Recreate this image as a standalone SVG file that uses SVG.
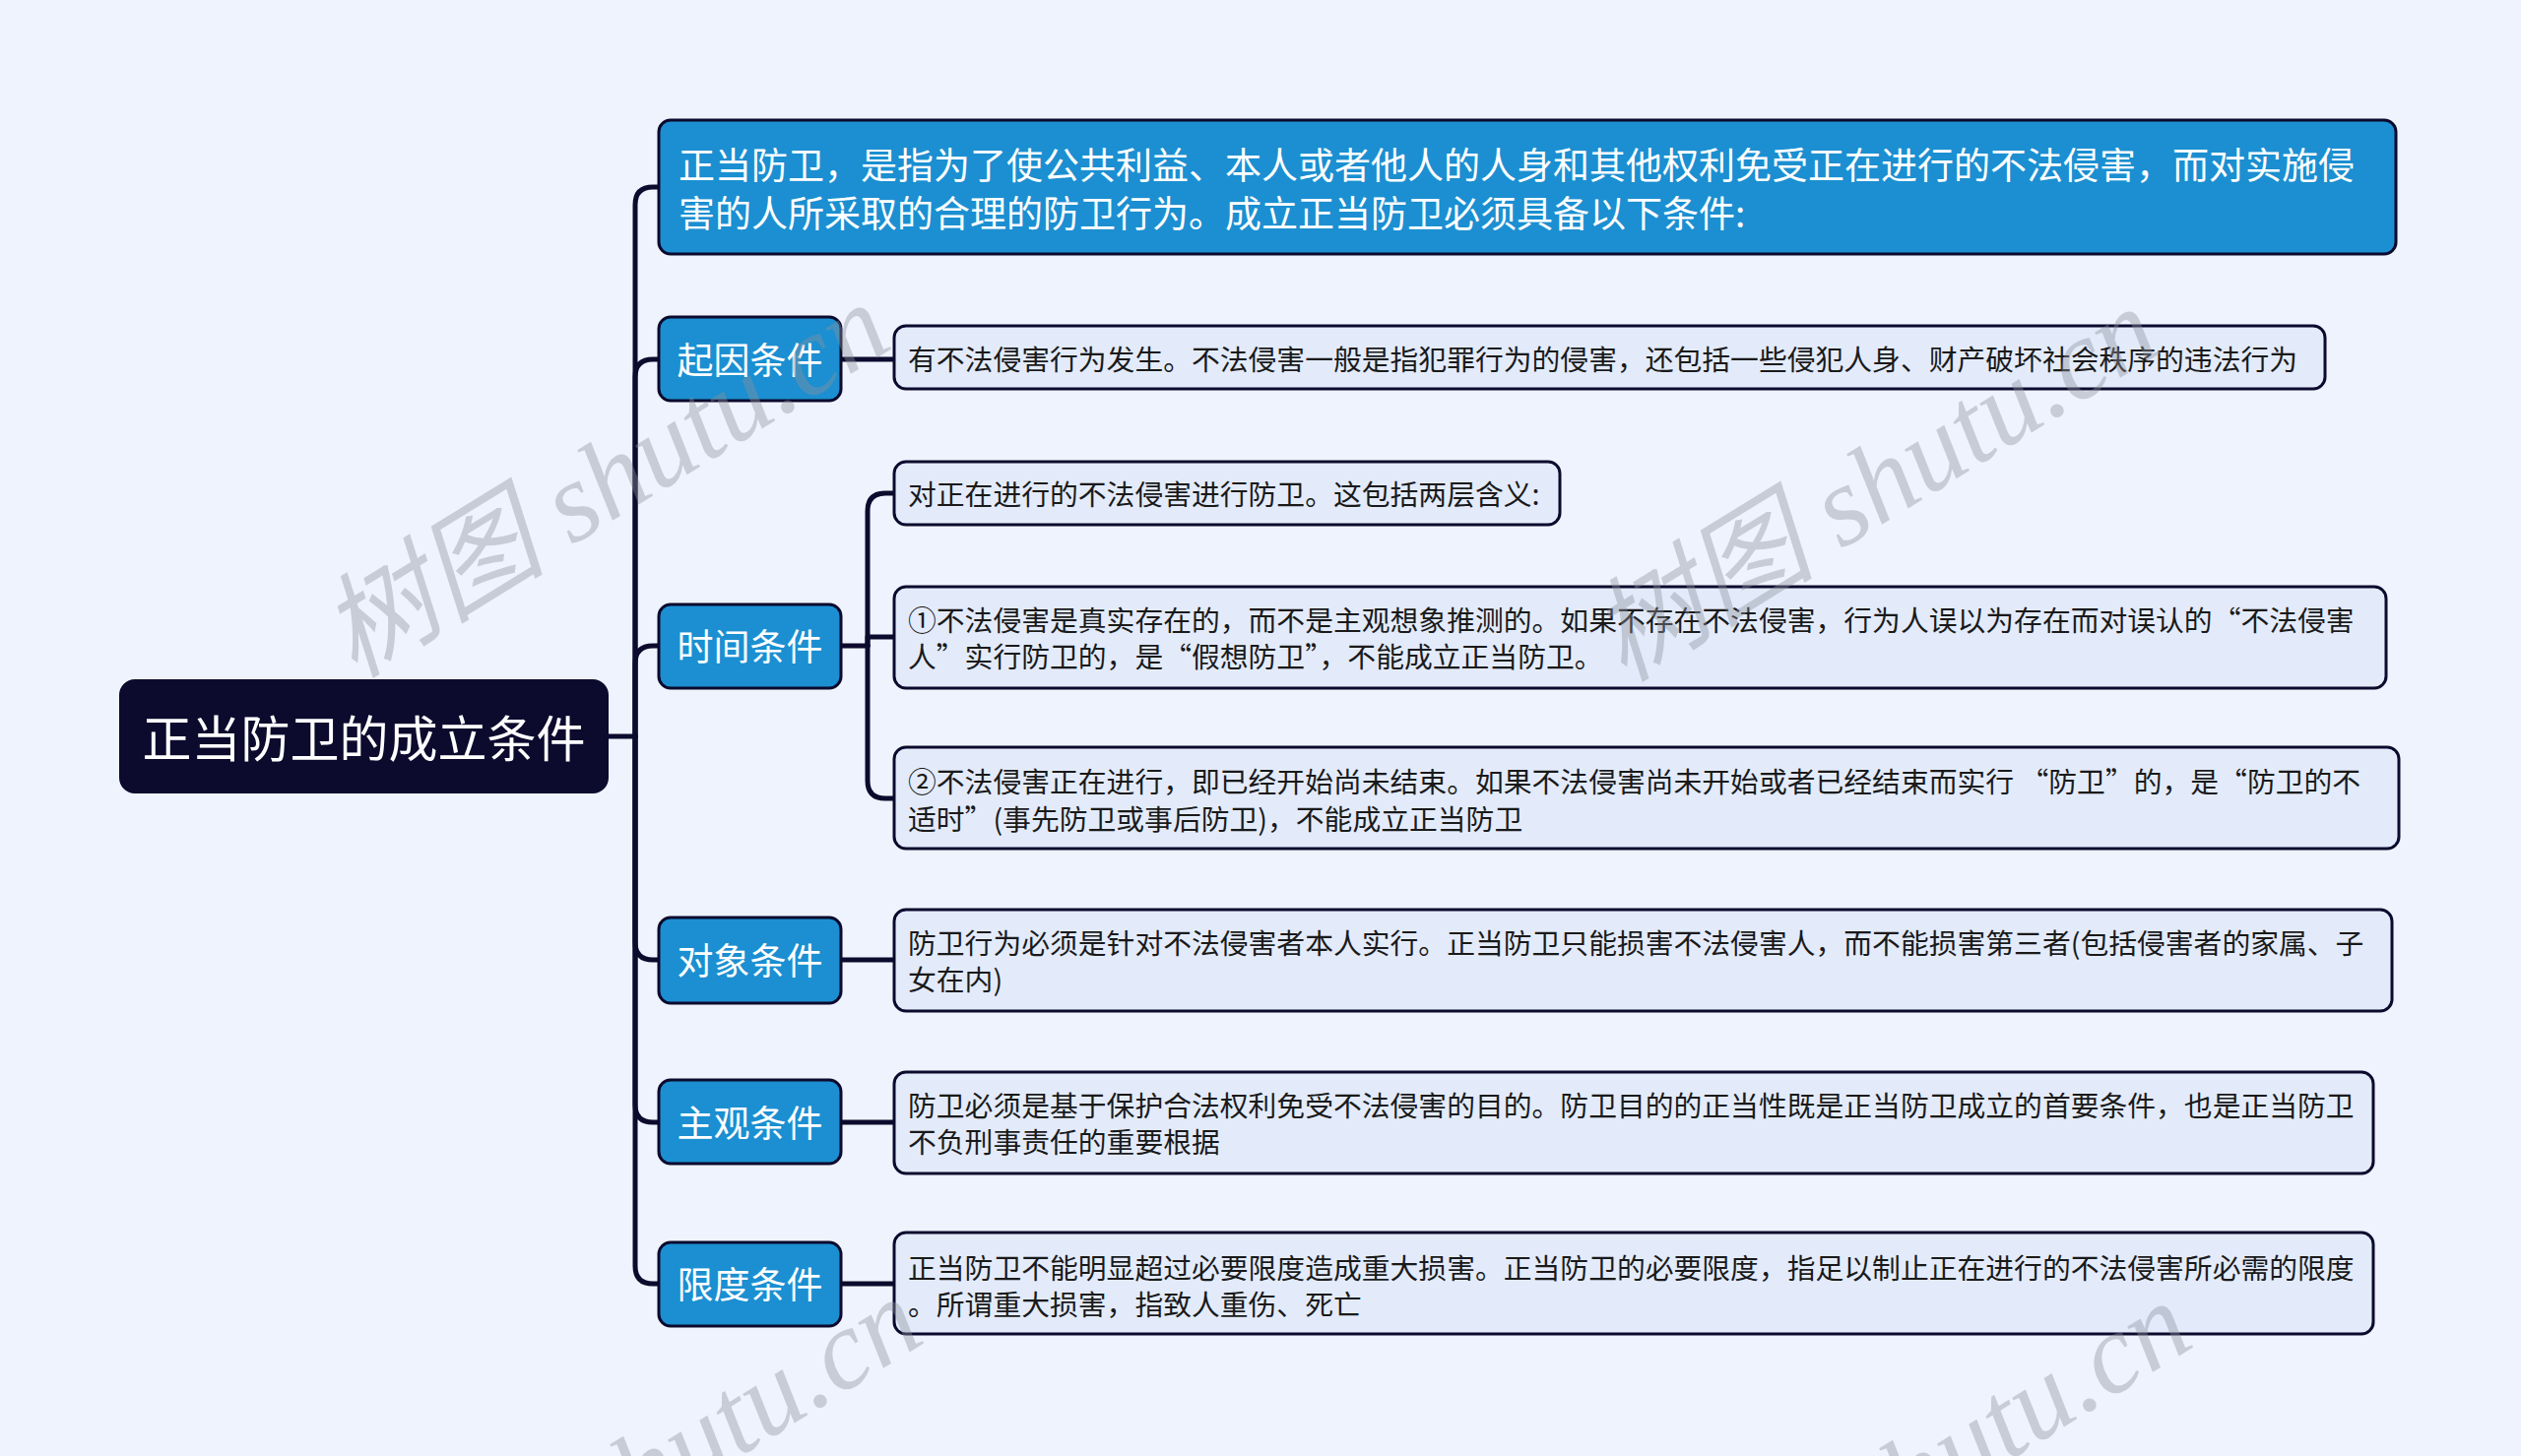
<svg xmlns="http://www.w3.org/2000/svg" width="2560" height="1479" viewBox="0 0 2560 1479">
<style>
.bg{fill:#eef3fd}
.root{fill:#0c0a2d;stroke:#0c0a2d;stroke-width:2}
.l1{fill:#1b8fd1;stroke:#0c0a2d;stroke-width:3}
.leaf{fill:#e3ebfb;stroke:#0c0a2d;stroke-width:3}
.conn{fill:none;stroke:#0c0a2d;stroke-width:5;stroke-linecap:round;stroke-linejoin:round}
text{font-family:"Noto Sans CJK SC","Noto Sans",sans-serif;dominant-baseline:central}
.tr{fill:#ffffff;font-size:50px}
.t1{fill:#ffffff;font-size:37px}
.tl{fill:#1a1a1a;font-size:28.8px}
.wm{font-family:"Liberation Serif","Noto Sans CJK SC",serif;font-style:italic;font-size:115px;fill:#8c919c;fill-opacity:0.4;dominant-baseline:auto}
</style>
<rect class="bg" x="0" y="0" width="2560" height="1479"/>
<g id="connectors">
<path class="conn" d="M617 748 L645 748"/>
<path class="conn" d="M645 748 L645 208 Q645 190 663 190 L669 190"/>
<path class="conn" d="M645 748 L645 383 Q645 365 663 365 L669 365"/>
<path class="conn" d="M645 748 L645 674 Q645 656 663 656 L669 656"/>
<path class="conn" d="M645 748 L645 957 Q645 975 663 975 L669 975"/>
<path class="conn" d="M645 748 L645 1122 Q645 1140 663 1140 L669 1140"/>
<path class="conn" d="M645 748 L645 1286 Q645 1304 663 1304 L669 1304"/>
<path class="conn" d="M854 365 L908 365"/>
<path class="conn" d="M854 656 L881 656"/>
<path class="conn" d="M881 656 L881 519 Q881 501 899 501 L908 501"/>
<path class="conn" d="M881 656 L881 647 L908 647"/>
<path class="conn" d="M881 656 L881 793 Q881 811 899 811 L908 811"/>
<path class="conn" d="M854 975 L908 975"/>
<path class="conn" d="M854 1140 L908 1140"/>
<path class="conn" d="M854 1304 L908 1304"/>
</g>
<g id="root">
<rect class="root" x="122" y="691" width="495" height="114" rx="15"/>
<text class="tr" x="369.5" y="747" text-anchor="middle">正当防卫的成立条件</text>
</g>
<g id="definition">
<rect class="l1" x="669" y="122" width="1764" height="136" rx="12"/>
<text class="t1" x="689" y="166">正当防卫，是指为了使公共利益、本人或者他人的人身和其他权利免受正在进行的不法侵害，而对实施侵</text>
<text class="t1" x="689" y="215">害的人所采取的合理的防卫行为。成立正当防卫必须具备以下条件:</text>
</g>
<g id="qiyin">
<rect class="l1" x="669" y="322" width="185" height="85" rx="12"/>
<text class="t1" x="761.5" y="364" text-anchor="middle">起因条件</text>
</g>
<g id="qiyin-detail">
<rect class="leaf" x="908" y="331" width="1453" height="64" rx="12"/>
<text class="tl" x="922" y="363">有不法侵害行为发生。不法侵害一般是指犯罪行为的侵害，还包括一些侵犯人身、财产破坏社会秩序的违法行为</text>
</g>
<g id="shijian">
<rect class="l1" x="669" y="614" width="185" height="85" rx="12"/>
<text class="t1" x="761.5" y="655" text-anchor="middle">时间条件</text>
</g>
<g id="shijian-1">
<rect class="leaf" x="908" y="469" width="676" height="64" rx="12"/>
<text class="tl" x="922" y="500">对正在进行的不法侵害进行防卫。这包括两层含义:</text>
</g>
<g id="shijian-2">
<rect class="leaf" x="908" y="596" width="1515" height="103" rx="12"/>
<text class="tl" x="922" y="628">①不法侵害是真实存在的，而不是主观想象推测的。如果不存在不法侵害，行为人误以为存在而对误认的“不法侵害</text>
<text class="tl" x="922" y="665">人”实行防卫的，是“假想防卫”，不能成立正当防卫。</text>
</g>
<g id="shijian-3">
<rect class="leaf" x="908" y="759" width="1528" height="103" rx="12"/>
<text class="tl" x="922" y="792">②不法侵害正在进行，即已经开始尚未结束。如果不法侵害尚未开始或者已经结束而实行 “防卫”的，是“防卫的不</text>
<text class="tl" x="922" y="830">适时”(事先防卫或事后防卫)，不能成立正当防卫</text>
</g>
<g id="duixiang">
<rect class="l1" x="669" y="932" width="185" height="87" rx="12"/>
<text class="t1" x="761.5" y="974" text-anchor="middle">对象条件</text>
</g>
<g id="duixiang-detail">
<rect class="leaf" x="908" y="924" width="1521" height="103" rx="12"/>
<text class="tl" x="922" y="956">防卫行为必须是针对不法侵害者本人实行。正当防卫只能损害不法侵害人，而不能损害第三者(包括侵害者的家属、子</text>
<text class="tl" x="922" y="993">女在内)</text>
</g>
<g id="zhuguan">
<rect class="l1" x="669" y="1097" width="185" height="85" rx="12"/>
<text class="t1" x="761.5" y="1139" text-anchor="middle">主观条件</text>
</g>
<g id="zhuguan-detail">
<rect class="leaf" x="908" y="1089" width="1502" height="103" rx="12"/>
<text class="tl" x="922" y="1121">防卫必须是基于保护合法权利免受不法侵害的目的。防卫目的的正当性既是正当防卫成立的首要条件，也是正当防卫</text>
<text class="tl" x="922" y="1158">不负刑事责任的重要根据</text>
</g>
<g id="xiandu">
<rect class="l1" x="669" y="1262" width="185" height="85" rx="12"/>
<text class="t1" x="761.5" y="1303" text-anchor="middle">限度条件</text>
</g>
<g id="xiandu-detail">
<rect class="leaf" x="908" y="1252" width="1502" height="103" rx="12"/>
<text class="tl" x="922" y="1286">正当防卫不能明显超过必要限度造成重大损害。正当防卫的必要限度，指足以制止正在进行的不法侵害所必需的限度</text>
<text class="tl" x="922" y="1323">。所谓重大损害，指致人重伤、死亡</text>
</g>
<g id="watermark">
<text class="wm" transform="translate(360 690) rotate(-31.6)">树图 shutu.cn</text>
<text class="wm" transform="translate(1649 694) rotate(-31.6)">树图 shutu.cn</text>
<text class="wm" transform="translate(393 1700) rotate(-31.6)">树图 shutu.cn</text>
<text class="wm" transform="translate(1682 1704) rotate(-31.6)">树图 shutu.cn</text>
</g>
</svg>
